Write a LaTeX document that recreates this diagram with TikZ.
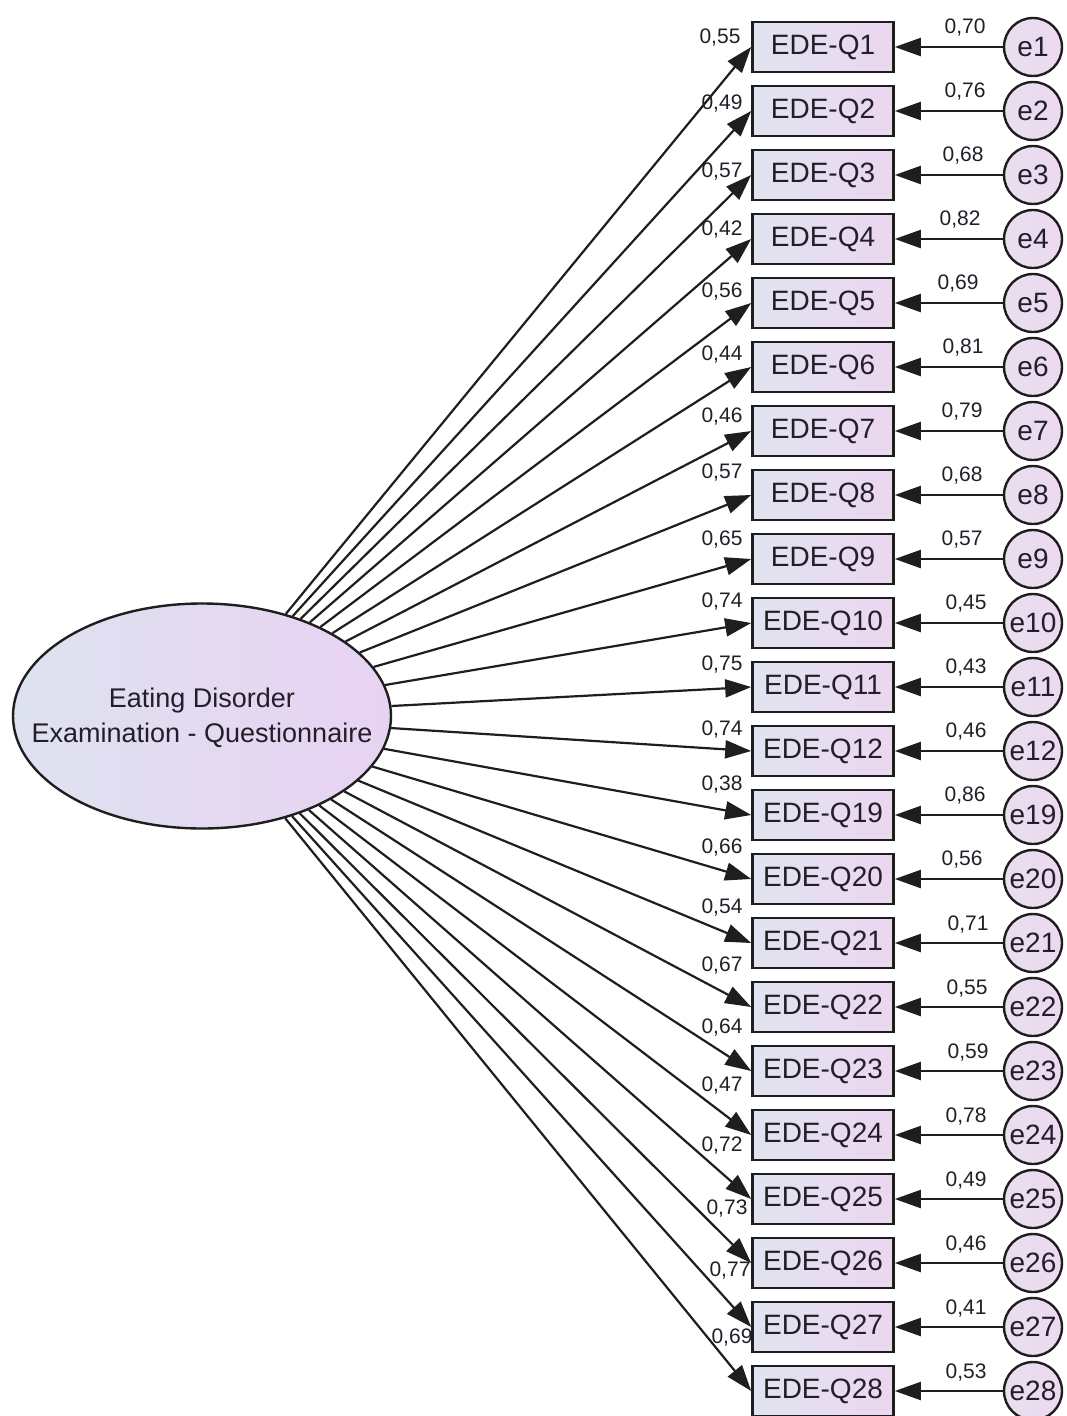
\documentclass[tikz,border=0pt]{standalone}
\usepackage{fontspec}
\setmainfont{Liberation Sans}
\usetikzlibrary{arrows.meta,shapes.geometric}
\definecolor{boxL}{RGB}{224,228,240}
\definecolor{boxR}{RGB}{236,214,240}
\definecolor{latL}{RGB}{222,226,240}
\definecolor{latR}{RGB}{232,210,242}
\definecolor{cirL}{RGB}{230,224,240}
\definecolor{cirR}{RGB}{238,216,240}
\definecolor{txt}{RGB}{35,30,40}
\definecolor{edge}{RGB}{30,30,30}
\begin{document}
\begin{tikzpicture}[x=1pt,y=-1pt,
  obs/.style={rectangle, draw=edge, line width=2.6pt, left color=boxL, right color=boxR,
    minimum width=141pt, minimum height=50pt, inner sep=0pt,
    font=\fontsize{28}{32}\selectfont, text=txt},
  err/.style={circle, draw=edge, line width=2.4pt, left color=cirL, right color=cirR,
    minimum size=58pt, inner sep=0pt, font=\fontsize{28}{32}\selectfont, text=txt},
  lat/.style={ellipse, draw=edge, line width=2.4pt, left color=latL, right color=latR,
    minimum width=378pt, minimum height=225pt, inner sep=0pt},
  lattext/.style={align=center, font=\fontsize{27}{35}\selectfont, text=txt, inner sep=0pt},
  arr/.style={draw=edge, line width=2.2pt, -{Triangle[length=26pt,width=18pt]}},
  coef/.style={font=\fontsize{21}{24}\selectfont, text=txt, inner sep=0pt}
]
\useasboundingbox (0,0) rectangle (1066,1416);
\fill[white] (0,0) rectangle (1066,1416);

\node[lat] (F) at (202,716) {};
\node[lattext] (Ft) at (202,718) {Eating Disorder\\Examination - Questionnaire};

\foreach \i/\q/\l/\lx/\ly/\r/\rx in {
  0/1/{0,55}/720/38/{0,70}/965,
  1/2/{0,49}/722/104/{0,76}/965,
  2/3/{0,57}/722/172/{0,68}/963,
  3/4/{0,42}/722/230/{0,82}/960,
  4/5/{0,56}/722/292/{0,69}/958,
  5/6/{0,44}/722/355/{0,81}/963,
  6/7/{0,46}/722/417/{0,79}/962,
  7/8/{0,57}/722/473/{0,68}/962,
  8/9/{0,65}/722/540/{0,57}/962,
  9/10/{0,74}/722/602/{0,45}/966,
  10/11/{0,75}/722/665/{0,43}/966,
  11/12/{0,74}/722/730/{0,46}/966,
  12/19/{0,38}/722/785/{0,86}/965,
  13/20/{0,66}/722/848/{0,56}/962,
  14/21/{0,54}/722/908/{0,71}/968,
  15/22/{0,67}/722/965/{0,55}/967,
  16/23/{0,64}/722/1027/{0,59}/968,
  17/24/{0,47}/722/1085/{0,78}/966,
  18/25/{0,72}/722/1145/{0,49}/966,
  19/26/{0,73}/727/1208/{0,46}/966,
  20/27/{0,77}/730/1270/{0,41}/966,
  21/28/{0,69}/732/1337/{0,53}/966}{
  \node[obs] (Q\q) at (823,{47+64*\i}) {EDE-Q\q};
  \node[err] (e\q) at (1033,{47+64*\i}) {e\q};
  \draw[arr] (F) -- (Q\q.west);
  \draw[arr] (e\q) -- (Q\q.east);
  \node[coef] (L\q) at (\lx,\ly) {\l};
  \node[coef] (R\q) at (\rx,{28+64*\i}) {\r};
}
\end{tikzpicture}
\end{document}
